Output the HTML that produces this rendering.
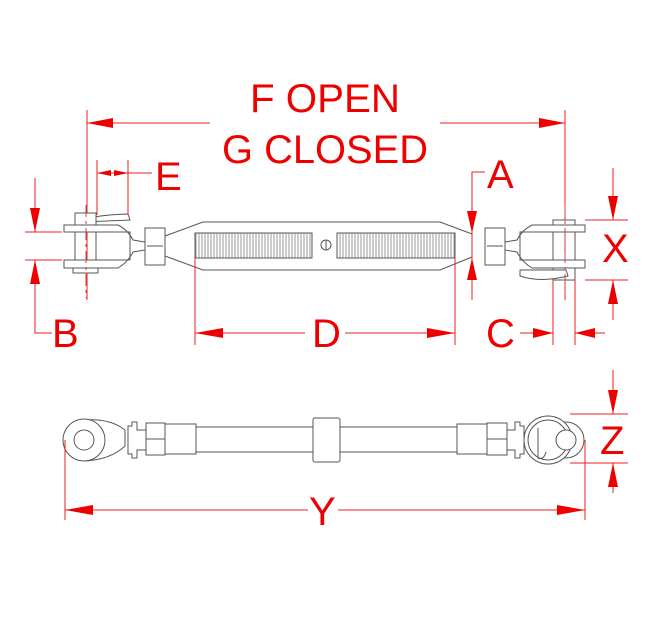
<!DOCTYPE html>
<html><head><meta charset="utf-8"><style>html,body{margin:0;padding:0;background:#fff}svg{display:block}</style></head>
<body>
<svg width="650" height="620" viewBox="0 0 650 620" xmlns="http://www.w3.org/2000/svg">
<style>
.r{stroke:#e22;stroke-width:1;fill:none}
.g{stroke:#555;stroke-width:1;fill:#fff}
.t{fill:#e00;font-family:"Liberation Sans",sans-serif;font-size:40px}
</style>
<defs><pattern id="th" width="3" height="25" patternUnits="userSpaceOnUse"><rect width="3" height="25" fill="#fff"/><line x1="1" y1="0" x2="1" y2="25" stroke="#999" stroke-width="1"/></pattern></defs>
<!-- titles -->
<text class="t" x="250" y="112" textLength="150" lengthAdjust="spacingAndGlyphs">F OPEN</text>
<text class="t" x="222" y="163" textLength="206" lengthAdjust="spacingAndGlyphs">G CLOSED</text>
<!-- F dim -->
<line class="r" x1="87" y1="110" x2="87" y2="300"/>
<line class="r" x1="565" y1="110" x2="565" y2="300"/>
<line class="r" x1="87" y1="123" x2="210" y2="123"/>
<line class="r" x1="440" y1="123" x2="565" y2="123"/>
<path d="M87,123 l26,-5 v10z M565,123 l-26,-5 v10z" fill="#e00"/>
<!-- E -->
<line class="r" x1="97" y1="160" x2="97" y2="215"/>
<line class="r" x1="128" y1="160" x2="128" y2="215"/>
<line class="r" x1="97" y1="173" x2="152" y2="173"/>
<path d="M97,173 l14,-3 v6z M128,173 l-14,-3 v6z" fill="#e00"/>
<text class="t" x="155" y="190" font-size="36">E</text>
<!-- B -->
<line class="r" x1="25" y1="232" x2="62" y2="232"/>
<line class="r" x1="25" y1="260" x2="62" y2="260"/>
<path class="r" d="M35,178 V232 M35,260 V333 H52"/>
<path d="M35,232 l-5,-24 h10z M35,260 l-5,24 h10z" fill="#e00"/>
<text class="t" x="52" y="347">B</text>
<!-- left clevis -->
<g class="g">
<path d="M83,222 Q90,215 128,214 L130,220 L83,222z"/>
<path d="M64,225 H118 Q128,230 133,240 L145,242 V250 L133,252 Q128,262 118,268 H64 V260 H130 V232 H64 Z"/>
<rect x="75" y="213" width="21" height="12"/>
<rect x="75" y="232" width="21" height="28" fill="none"/>
<rect x="73" y="268" width="25" height="5"/>
<rect x="145" y="228" width="20" height="37"/>
<path d="M147,246 H163" fill="none"/>
<!-- body -->
<path d="M165,236 L203,222 H440 L472,234 V257 L440,270 H203 L165,256z"/>
<rect x="195" y="233" width="117" height="25" fill="url(#th)"/>
<rect x="337" y="233" width="118" height="25" fill="url(#th)"/>
<circle cx="326" cy="245" r="5"/>
<line x1="326" y1="240" x2="326" y2="250"/>
<rect x="485" y="228" width="20" height="37"/>
<path d="M487,246 H503" fill="none"/>
<!-- right clevis -->
<path d="M505,242 L517,240 Q522,230 532,225 H585 V232 H520 V260 H585 V268 H532 Q522,262 517,252 L505,250Z"/>
<rect x="553" y="220" width="22" height="5"/>
<rect x="553" y="232" width="22" height="28" fill="none"/>
<rect x="553" y="268" width="22" height="12"/>
<path d="M520,270 H566 L568,276 Q540,283 520,276z"/>
</g>
<!-- center dashed lines -->
<line x1="86" y1="205" x2="86" y2="298" stroke="#c44" stroke-width="1" stroke-dasharray="12,4,3,4"/>
<line x1="565" y1="205" x2="565" y2="298" stroke="#c44" stroke-width="1" stroke-dasharray="12,4,3,4"/>
<!-- A -->
<path class="r" d="M485,172 H472 V300"/>
<path d="M472,233 l-5,-22 h10z M472,258 l-5,22 h10z" fill="#e00"/>
<text class="t" x="487" y="188" font-size="36">A</text>
<!-- X -->
<line class="r" x1="585" y1="220" x2="628" y2="220"/>
<line class="r" x1="585" y1="280" x2="628" y2="280"/>
<path class="r" d="M613,168 V220 M613,280 V320"/>
<path d="M613,220 l-5,-24 h10z M613,280 l-5,24 h10z" fill="#e00"/>
<text class="t" x="602" y="262" font-size="38">X</text>
<!-- D -->
<line class="r" x1="195" y1="258" x2="195" y2="345"/>
<line class="r" x1="455" y1="258" x2="455" y2="345"/>
<line class="r" x1="195" y1="333" x2="305" y2="333"/>
<line class="r" x1="345" y1="333" x2="455" y2="333"/>
<path d="M195,333 l28,-5 v10z M455,333 l-28,-5 v10z" fill="#e00"/>
<text class="t" x="312" y="347">D</text>
<!-- C -->
<line class="r" x1="553" y1="280" x2="553" y2="345"/>
<line class="r" x1="575" y1="280" x2="575" y2="345"/>
<line class="r" x1="520" y1="333" x2="553" y2="333"/>
<line class="r" x1="575" y1="333" x2="605" y2="333"/>
<path d="M553,333 l-20,-5 v10z M575,333 l20,-5 v10z" fill="#e00"/>
<text class="t" x="486" y="347">C</text>
<!-- bottom view -->
<g class="g">
<path d="M84,420 Q110,418 125,430 V446 Q110,460 84,461z"/>
<circle cx="84" cy="440" r="21"/>
<circle cx="84" cy="440" r="10"/>
<path d="M128,426 h4 v-4 h5 v8 h9 v20 h-9 v8 h-5 v-4 h-4z"/>
<rect x="146" y="423" width="19" height="32"/>
<line x1="146" y1="439" x2="165" y2="439"/>
<rect x="165" y="424" width="31" height="30"/>
<rect x="196" y="427" width="117" height="25"/>
<rect x="313" y="418" width="27" height="44" rx="2"/>
<rect x="340" y="427" width="117" height="25"/>
<rect x="457" y="424" width="30" height="30"/>
<rect x="487" y="423" width="20" height="32"/>
<line x1="487" y1="439" x2="507" y2="439"/>
<path d="M524,426 h-4 v-4 h-5 v8 h-8 v20 h8 v8 h5 v-4 h4z"/>
<circle cx="566" cy="440" r="18"/>
<circle cx="548" cy="440" r="24"/>
<circle cx="548" cy="440" r="20"/>
<circle cx="566" cy="440" r="10"/>
<path d="M538,428 V458 Q544,460 546,452" fill="none"/>
</g>
<!-- Z -->
<line class="r" x1="570" y1="414" x2="628" y2="414"/>
<line class="r" x1="570" y1="463" x2="628" y2="463"/>
<path class="r" d="M613,370 V414 M613,463 V493"/>
<path d="M613,414 l-5,-24 h10z M613,463 l-5,24 h10z" fill="#e00"/>
<text class="t" x="600" y="454" font-size="38">Z</text>
<!-- Y -->
<line class="r" x1="65" y1="440" x2="65" y2="520"/>
<line class="r" x1="585" y1="440" x2="585" y2="520"/>
<line class="r" x1="65" y1="510" x2="308" y2="510"/>
<line class="r" x1="338" y1="510" x2="585" y2="510"/>
<path d="M65,510 l28,-5 v10z M585,510 l-28,-5 v10z" fill="#e00"/>
<text class="t" x="309" y="525" font-size="38">Y</text>
</svg>
</body></html>
